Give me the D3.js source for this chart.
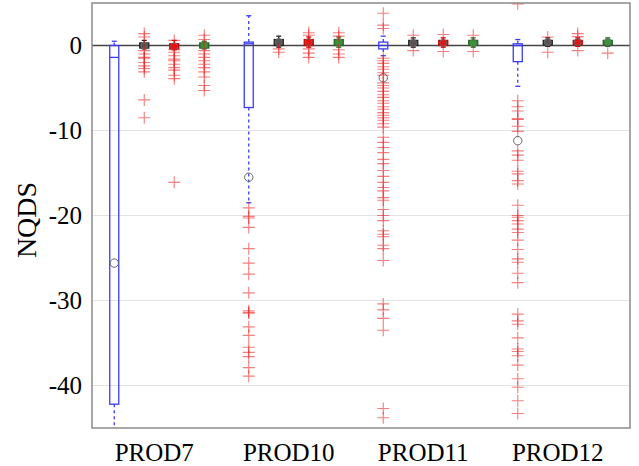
<!DOCTYPE html>
<html><head><meta charset="utf-8">
<script src="https://cdn.jsdelivr.net/npm/d3@7"></script>
<style>body{margin:0;background:#fff}svg{display:block}</style>
</head><body>
<svg id="c" width="639" height="466"></svg>
<script>
const groups = ["PROD7","PROD10","PROD11","PROD12"];
const series = ["A","B","C","D"];
const yTicks = [0,-10,-20,-30,-40];
// box stats per group, per series: [q1, median, q3, whiskerLow, whiskerHigh, mean]
const statsPROD7  = [[-42.2,-1.4,0,-50,0.5,-25.6],[-0.3,0,0.3,-0.4,0.6,0],[-0.4,-0.1,0.2,-0.5,0.6,-0.1],[-0.3,0,0.3,-0.4,0.5,0]];
const statsPROD10 = [[-7.3,0.2,0.4,-18.5,3.5,-15.5],[0,0.4,0.7,-0.2,1.1,0.4],[0,0.4,0.7,-0.2,1.0,0.4],[0,0.4,0.7,-0.2,1.0,0.4]];
const statsPROD11 = [[-0.4,0,0.4,-1.2,1.1,-3.8],[0,0.3,0.6,-0.2,0.9,0.3],[0,0.3,0.6,-0.2,0.9,0.3],[0,0.3,0.6,-0.2,0.9,0.3]];
const statsPROD12 = [[-1.9,0,0.2,-4.8,0.7,-11.2],[0.1,0.4,0.6,-0.1,0.9,0.4],[0.1,0.4,0.6,-0.1,0.9,0.4],[0.1,0.4,0.6,-0.1,0.9,0.4]];
// outliers per group, per series
const outPROD7 = [[],
  [1.4,1.0,-0.6,-1.0,-1.4,-1.5,-2.0,-2.4,-2.7,-3.1,-6.4,-8.5],
  [0.6,-0.5,-0.8,-1.2,-1.6,-1.8,-2.2,-2.6,-2.9,-3.5,-3.9,-16.1],
  [1.2,0.7,-0.6,-1.0,-1.4,-1.8,-2.2,-2.6,-3.1,-3.7,-4.7,-5.3]];
const outPROD10 = [[-19.1,-20.1,-20.3,-21.4,-23.9,-25.6,-26.9,-29.1,-31.2,-31.4,-31.5,-33.1,-34.1,-35.5,-36.1,-36.6,-37.9,-38.9],
  [-0.4,-0.8],[1.5,1.2,-0.4,-0.9,-1.4],[1.5,1.1,-0.5,-1.0,-1.4]];
const outPROD11 = [[3.8,2.4,2.0,-1.5,-1.8,-2.1,-2.5,-2.8,-3.2,-3.5,-4.4,-4.7,-5.0,-5.4,-5.8,-6.1,-6.5,-6.8,-7.2,-7.5,-7.9,-8.2,-8.5,-8.8,-9.2,-9.6,-10.8,-11.4,-12.0,-12.6,-13.4,-13.9,-14.7,-15.4,-16.1,-16.7,-17.1,-17.9,-18.2,-19.3,-20.0,-20.6,-21.8,-22.2,-22.5,-23.5,-23.9,-25.3,-30.4,-31.1,-32.1,-33.5,-42.7,-43.8],
  [1.2,-0.6],[1.3,-0.7],[1.2,-0.7]];
const outPROD12 = [[4.9,-6.5,-7.2,-7.7,-8.6,-8.7,-9.5,-10.1,-12.4,-12.9,-13.5,-14.8,-15.1,-15.9,-16.3,-18.8,-20.0,-20.2,-20.6,-21.0,-21.6,-22.0,-22.9,-24.0,-25.1,-25.5,-26.8,-27.9,-31.6,-32.4,-32.8,-34.4,-35.7,-36.0,-36.5,-37.6,-39.2,-40.2,-41.8,-43.3],
  [1.0,-0.8],[1.4,1.05,-0.6],[-0.9]];

const allStats = [statsPROD7,statsPROD10,statsPROD11,statsPROD12];
const allOut = [outPROD7,outPROD10,outPROD11,outPROD12];
const strokeCol = ["#3b3bf5","#222","#c00","#1d6b1d"];
const fillCol = ["none","#555","#e81010","#2f9a2f"];

const L=92,T=3,R=630,B=428;
const svg = d3.select("#c");
const x = d3.scaleBand().domain(groups).range([L,R]);
const xs = d3.scaleBand().domain(series).range([0,x.bandwidth()]).paddingInner(0).paddingOuter(0.242);
const y = d3.scaleLinear().domain([-45,5]).range([B,T]);
const cx = (g,s)=> x(g)+xs(s)+xs.bandwidth()/2;

svg.append("defs").append("clipPath").attr("id","clip").append("rect")
  .attr("x",L).attr("y",T).attr("width",R-L).attr("height",B-T);

// grid
svg.append("g").selectAll("line").data(yTicks.filter(d=>d!==0)).join("line")
  .attr("x1",L).attr("x2",R).attr("y1",d=>y(d)).attr("y2",d=>y(d))
  .attr("stroke","#e3e3e3").attr("stroke-width",1.2);
svg.append("line").attr("x1",L).attr("x2",R).attr("y1",y(0)).attr("y2",y(0))
  .attr("stroke","#444").attr("stroke-width",1.3);

const plot = svg.append("g").attr("clip-path","url(#clip)");
const bw = 9;
groups.forEach((g,gi)=>{
  series.forEach((s,si)=>{
    const st = allStats[gi][si];
    const c = cx(g,s);
    const gg = plot.append("g");
    const dash = si===0 ? "3,3" : null;
    gg.append("line").attr("x1",c).attr("x2",c).attr("y1",y(st[2])).attr("y2",y(st[4]))
      .attr("stroke",strokeCol[si]).attr("stroke-width",1.3).attr("stroke-dasharray",dash);
    gg.append("line").attr("x1",c).attr("x2",c).attr("y1",y(st[0])).attr("y2",y(st[3]))
      .attr("stroke",strokeCol[si]).attr("stroke-width",1.3).attr("stroke-dasharray",dash);
    [st[3],st[4]].forEach(v=>{
      gg.append("line").attr("x1",c-2.5).attr("x2",c+2.5).attr("y1",y(v)).attr("y2",y(v))
        .attr("stroke",strokeCol[si]).attr("stroke-width",1.3);
    });
    gg.append("rect").attr("x",c-bw/2).attr("width",bw)
      .attr("y",y(st[2])).attr("height",Math.max(1,y(st[0])-y(st[2])))
      .attr("fill",fillCol[si]).attr("stroke",strokeCol[si]).attr("stroke-width",1.3);
    gg.append("line").attr("x1",c-bw/2).attr("x2",c+bw/2).attr("y1",y(st[1])).attr("y2",y(st[1]))
      .attr("stroke",strokeCol[si]).attr("stroke-width",1.3);
    gg.append("circle").attr("cx",c).attr("cy",y(st[5])).attr("r",si===0?4.2:3.5)
      .attr("fill",si===0?"none":fillCol[si]).attr("stroke","#666").attr("stroke-width",1);
  });
});
// outliers
groups.forEach((g,gi)=>{
  series.forEach((s,si)=>{
    const c = cx(g,s);
    plot.append("g").selectAll("path").data(allOut[gi][si]).join("path")
      .attr("d",d=>`M${c-6},${y(d)}H${c+6}M${c},${y(d)-6}V${y(d)+6}`)
      .attr("stroke","rgba(240,20,20,0.55)").attr("stroke-width",1.1).attr("fill","none");
  });
});

// frame
svg.append("rect").attr("x",L).attr("y",T).attr("width",R-L).attr("height",B-T)
  .attr("fill","none").attr("stroke","#8a8a8a").attr("stroke-width",1.5);

// y tick labels
svg.append("g").selectAll("text").data(yTicks).join("text")
  .attr("x",82).attr("y",d=>y(d)).attr("dy","0.35em").attr("text-anchor","end")
  .attr("font-family","Liberation Serif, Times New Roman, serif").attr("font-size",25)
  .attr("fill","#000").text(d=>String(d));
// x labels
svg.append("g").selectAll("text").data(groups).join("text")
  .attr("x",g=>x(g)+x.bandwidth()/2-5).attr("y",461).attr("text-anchor","middle")
  .attr("font-family","Liberation Serif, Times New Roman, serif").attr("font-size",25)
  .attr("fill","#000").text(d=>d);
// y title
svg.append("text").attr("transform","translate(36,220) rotate(-90)").attr("text-anchor","middle")
  .attr("font-family","Liberation Serif, Times New Roman, serif").attr("font-size",28)
  .attr("fill","#000").text("NQDS");
</script>
</body></html>
